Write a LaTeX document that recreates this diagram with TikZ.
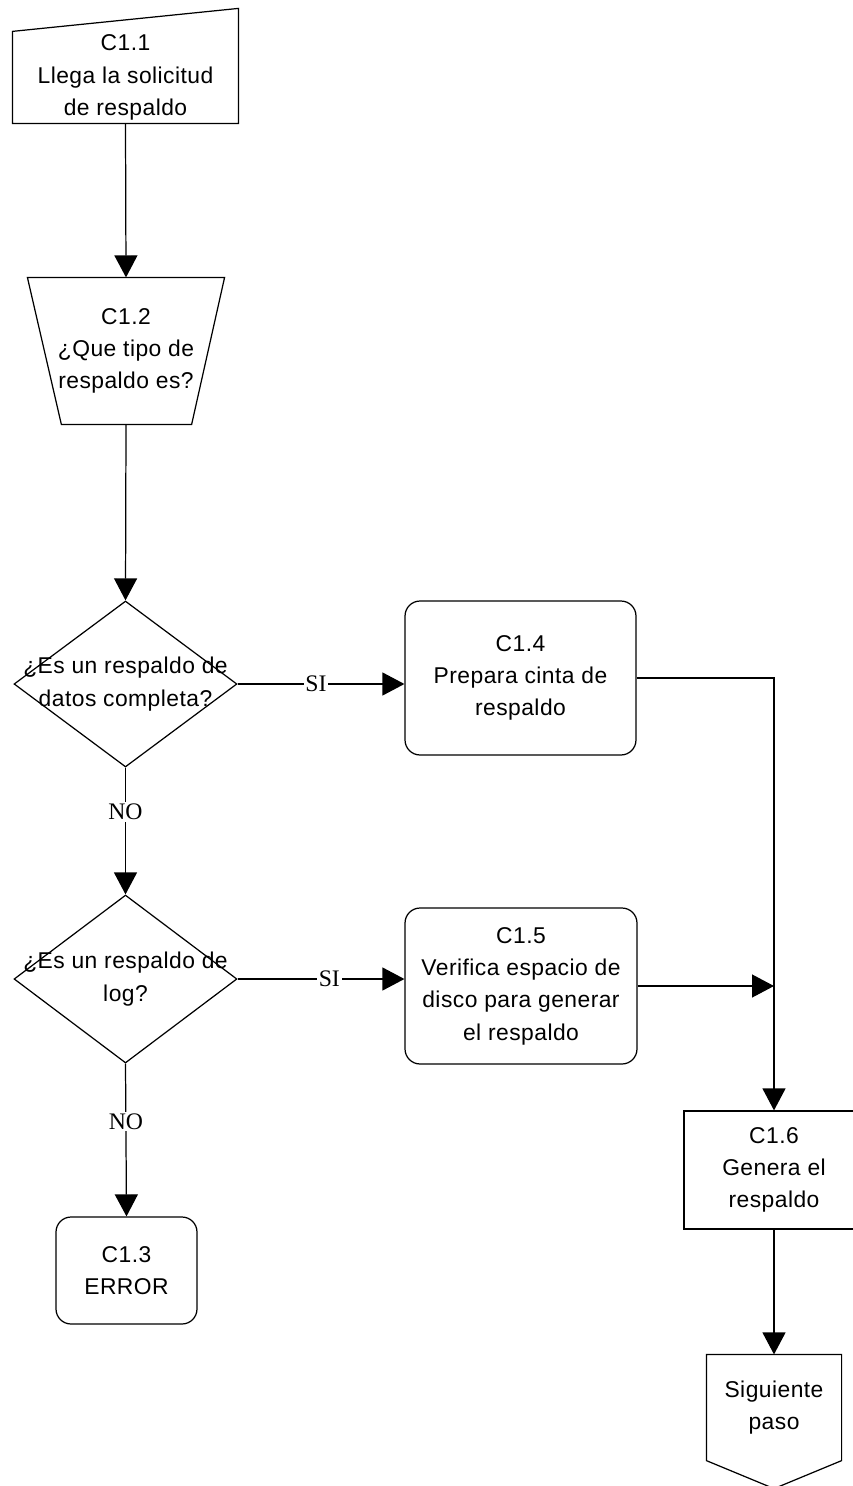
\documentclass[tikz,border=0pt]{standalone}
\usepackage{fontspec}
\setmainfont{Liberation Sans}[LetterSpace=2]
\newfontfamily\lblfont{Liberation Serif}
\usetikzlibrary{shapes.geometric,arrows.meta,calc}

\begin{document}
\begin{tikzpicture}[x=0.02cm, y=-0.02cm, line width=0.7pt]
\tikzstyle{txt} = [align=center, inner sep=0pt, font=\fontsize{13}{18.4}\selectfont]
\tikzstyle{process} = [txt, rectangle, draw, rounded corners=0.3cm]
\tikzstyle{plain} = [txt, rectangle, draw]
\tikzstyle{decision} = [diamond, draw, inner sep=0pt, minimum width=4.46cm]
\tikzstyle{arrow} = [-{Triangle[length=0.44cm,width=0.46cm]}]
\tikzstyle{lbl} = [fill=white, inner sep=1pt, font=\lblfont\fontsize{13.5}{14}\selectfont]

\useasboundingbox (0,0) rectangle (852,1486);

% manual input
\node[txt, minimum width=4.5cm, minimum height=1.82cm] (c11) at (125.5,77.5) {C1.1\\Llega la solicitud\\de respaldo};
\draw (c11.south west) -- (c11.north west) -- ($(c11.north east)+(0,-23)$) -- (c11.south east) -- cycle;

% manual operation
\node[txt, minimum width=3.92cm, minimum height=2.92cm] (c12) at (126,351) {C1.2\\¿Que tipo de\\respaldo es?};
\draw (c12.north west) -- (c12.north east) -- ($(c12.south east)+(-33,0)$) -- ($(c12.south west)+(34,0)$) -- cycle;

% decisions
\node[decision, minimum height=3.32cm, label={[txt]center:{¿Es un respaldo de\\datos completa?}}] (d1) at (125.5,684) {};
\node[decision, minimum height=3.36cm, label={[txt]center:{¿Es un respaldo de\\log?}}] (d2) at (125.5,979) {};

\node[process, minimum width=4.62cm, minimum height=3.08cm] (c14) at (520.5,678) {C1.4\\Prepara cinta de\\respaldo};
\node[process, minimum width=4.64cm, minimum height=3.12cm] (c15) at (521,986) {C1.5\\Verifica espacio de\\disco para generar\\el respaldo};
\node[process, minimum width=2.82cm, minimum height=2.14cm] (c13) at (126.5,1270.5) {C1.3\\ERROR};
\node[plain, minimum width=3.6cm, minimum height=2.36cm] (c16) at (774,1170) {C1.6\\Genera el\\respaldo};

% off-page connector
\node[txt, minimum width=2.68cm, minimum height=2.1cm] (sig) at (774,1407.5) {Siguiente\\paso};
\draw (sig.north west) -- (sig.north east) -- (sig.south east) -- ($(sig.south)+(0,28)$) -- (sig.south west) -- cycle;

\draw[arrow] (c11.south) -- (c12.north);
\draw[arrow] (c12.south) -- (d1.north);
\draw[arrow] (d1.east) -- node[lbl, pos=.47] (si1) {SI} (d1.east -| c14.west);
\draw[arrow] (d1.south) -- node[lbl, pos=.35] (no1) {NO} (d2.north);
\draw[arrow] (d2.east) -- node[lbl, pos=.55] (si2) {SI} (d2.east -| c15.west);
\draw[arrow] (d2.south) -- node[lbl, pos=.38] (no2) {NO} (c13.north);
\draw[arrow] (c14.east) -| (c16.north);
\coordinate (join) at (c15.east -| c16.north);
\draw[arrow] (c15.east) -- (join);
\draw[arrow] (c16.south) -- (sig.north);
\end{tikzpicture}
\end{document}
